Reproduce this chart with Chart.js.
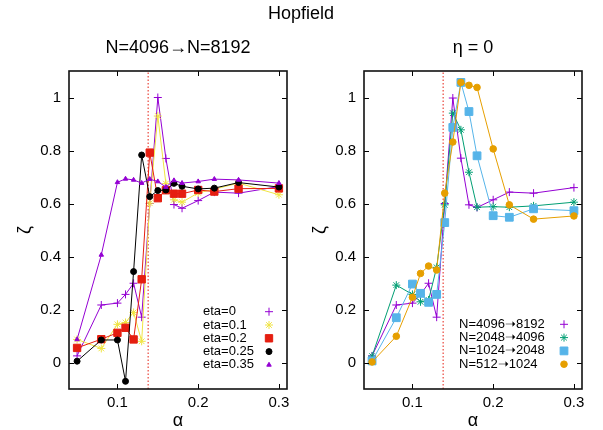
<!DOCTYPE html>
<html>
<head>
<meta charset="utf-8">
<script src="https://cdn.jsdelivr.net/npm/chart.js@4/dist/chart.umd.min.js"></script>
<style>
  html, body { margin:0; padding:0; background:#fff; }
  #wrap { position:relative; width:603px; height:430px; background:#fff; overflow:hidden; }
  canvas { position:absolute; top:0; }
  .t { position:absolute; font-family:"Liberation Sans", Arial, sans-serif; font-size:18px; line-height:18px; text-align:center; color:#000; white-space:nowrap; }
</style>
</head>
<body>
<div id="wrap">
  <canvas id="c1" width="300" height="430" style="left:0px"></canvas>
  <canvas id="c2" width="303" height="430" style="left:300px"></canvas>
  <div class="t" style="left:201px; width:200px; top:4px;">Hopfield</div>
  <div class="t" style="left:78px; width:200px; top:38px;">N=4096→N=8192</div>
  <div class="t" style="left:373px; width:200px; top:38px;">η = 0</div>
</div>
<script>
// ---- data ----
const ALPHA = [0.05, 0.08, 0.1, 0.11, 0.12, 0.13, 0.14, 0.15, 0.16, 0.17, 0.18, 0.2, 0.22, 0.25, 0.3];

const ZETA_ETA_0    = [0.025, 0.217, 0.224, 0.257, 0.299, 0.171, 0.60, 1.0, 0.77, 0.596, 0.582, 0.611, 0.643, 0.639, 0.664];
const ZETA_ETA_01   = [0.087, 0.053, 0.144, 0.151, 0.189, 0.080, 0.601, 0.930, 0.675, 0.614, 0.605, 0.640, 0.654, 0.677, 0.633];
const ZETA_ETA_02   = [0.055, 0.088, 0.112, 0.131, 0.087, 0.314, 0.792, 0.620, 0.650, 0.637, 0.637, 0.651, 0.645, 0.656, 0.657];
const ZETA_ETA_025  = [0.005, 0.085, 0.085, -0.071, 0.343, 0.783, 0.626, 0.649, 0.651, 0.676, 0.665, 0.655, 0.658, 0.679, 0.662];
const ZETA_ETA_035  = [0.087, 0.406, 0.680, 0.693, 0.689, 0.677, 0.692, 0.683, 0.662, 0.687, 0.677, 0.683, 0.692, 0.689, 0.677];

const ZETA_N4096 = [0.025, 0.217, 0.224, 0.257, 0.299, 0.171, 0.60, 0.998, 0.771, 0.595, 0.585, 0.614, 0.643, 0.639, 0.660];
const ZETA_N2048 = [0.024, 0.292, 0.257, 0.229, 0.236, 0.359, 0.595, 0.941, 0.878, 0.718, 0.586, 0.588, 0.586, 0.591, 0.605];
const ZETA_N1024 = [0.006, 0.169, 0.296, 0.261, 0.227, 0.257, 0.528, 0.887, 1.057, 0.947, 0.780, 0.554, 0.548, 0.580, 0.573];
const ZETA_N512  = [0.002, 0.099, 0.246, 0.336, 0.364, 0.349, 0.639, 0.832, 1.057, 1.046, 1.038, 0.806, 0.595, 0.541, 0.553];

const LEFT_LABELS  = ['eta=0', 'eta=0.1', 'eta=0.2', 'eta=0.25', 'eta=0.35'];
const RIGHT_LABELS = ['N=4096\u279d8192', 'N=2048\u279d4096', 'N=1024\u279d2048', 'N=512\u279d1024'];

const X_TICKS = [0.1, 0.2, 0.3];
const Y_TICKS = [0, 0.2, 0.4, 0.6, 0.8, 1];
const X_RANGE = [0.04, 0.31];
const Y_RANGE = [-0.1, 1.1];
const ALPHA_C = 0.138;

// ---- styles ----
const FONT = '"Liberation Sans", Arial, sans-serif';
const LEFT_STYLE = [
  {c:'#9400d3', ps:'cross',    r:4},
  {c:'#f0e442', ps:'star',     r:4},
  {c:'#e51e10', ps:'rect',     r:5.2},
  {c:'#000000', ps:'circle',   r:3},
  {c:'#9400d3', ps:'triangle', r:2.6}
];
const RIGHT_STYLE = [
  {c:'#9400d3', ps:'cross',  r:4},
  {c:'#009e73', ps:'star',   r:4},
  {c:'#56b4e9', ps:'rect',   r:5.5},
  {c:'#e69f00', ps:'circle', r:3.3}
];

function drawMarker(ctx, ps, r, x, y, c) {
  ctx.save();
  ctx.strokeStyle = c; ctx.fillStyle = c; ctx.lineWidth = 1;
  ctx.beginPath();
  if (ps === 'cross' || ps === 'star') {
    ctx.moveTo(x - r, y); ctx.lineTo(x + r, y);
    ctx.moveTo(x, y - r); ctx.lineTo(x, y + r);
    if (ps === 'star') {
      const d = r * Math.SQRT1_2;
      ctx.moveTo(x - d, y - d); ctx.lineTo(x + d, y + d);
      ctx.moveTo(x - d, y + d); ctx.lineTo(x + d, y - d);
    }
    ctx.stroke();
  } else if (ps === 'rect') {
    const s = r * Math.SQRT1_2;
    ctx.rect(x - s, y - s, 2 * s, 2 * s); ctx.fill(); ctx.stroke();
  } else if (ps === 'circle') {
    ctx.arc(x, y, r, 0, Math.PI * 2); ctx.fill(); ctx.stroke();
  } else if (ps === 'triangle') {
    const w = r * Math.sqrt(3);
    ctx.moveTo(x, y - r); ctx.lineTo(x + w / 2, y + r / 2); ctx.lineTo(x - w / 2, y + r / 2);
    ctx.closePath(); ctx.fill(); ctx.stroke();
  }
  ctx.restore();
}

const framePlugin = {
  id: 'gframe',
  afterDatasetsDraw(chart) {
    const {ctx, chartArea: a, scales} = chart;
    ctx.save();
    ctx.strokeStyle = '#000'; ctx.lineWidth = 1;
    const tl = 5;
    ctx.beginPath();
    X_TICKS.forEach(v => {
      const px = Math.round(scales.x.getPixelForValue(v)) + 0.5;
      ctx.moveTo(px, a.bottom); ctx.lineTo(px, a.bottom - tl);
      ctx.moveTo(px, a.top); ctx.lineTo(px, a.top + tl);
    });
    Y_TICKS.forEach(v => {
      const py = Math.round(scales.y.getPixelForValue(v)) + 0.5;
      ctx.moveTo(a.left, py); ctx.lineTo(a.left + tl, py);
      ctx.moveTo(a.right, py); ctx.lineTo(a.right - tl, py);
    });
    ctx.stroke();
    ctx.lineWidth = 1.6;
    ctx.strokeStyle = '#111';
    ctx.strokeRect(a.left, a.top, a.right - a.left, a.bottom - a.top);
    // legend
    const o = chart.options.plugins.gleg;
    ctx.font = '13px ' + FONT;
    ctx.fillStyle = '#000';
    ctx.textAlign = 'left';
    ctx.textBaseline = 'middle';
    o.labels.forEach((lab, i) => {
      const y = o.y0 + i * o.dy;
      ctx.fillText(lab, o.textX, y);
      const s = o.styles[i];
      drawMarker(ctx, s.ps, s.r, o.markX, y, s.c);
    });
    ctx.restore();
  }
};

function makeDatasets(series, styles, labels) {
  const n = series.length;
  const ds = series.map((vals, i) => ({
    label: labels[i],
    data: ALPHA.map((a, j) => ({x: a, y: vals[j]})),
    borderColor: styles[i].c,
    backgroundColor: styles[i].c,
    borderWidth: 1,
    pointStyle: styles[i].ps,
    pointRadius: styles[i].r,
    pointBorderWidth: 1,
    pointBackgroundColor: styles[i].c,
    pointBorderColor: styles[i].c,
    tension: 0,
    fill: false,
    order: n - i
  }));
  ds.push({
    label: '',
    data: [{x: ALPHA_C, y: Y_RANGE[0]}, {x: ALPHA_C, y: Y_RANGE[1]}],
    borderColor: '#e51e10',
    borderWidth: 1,
    borderDash: [1.5, 2],
    pointRadius: 0,
    fill: false,
    order: n + 5
  });
  return ds;
}

function makeChart(id, series, styles, labels, geo) {
  return new Chart(document.getElementById(id), {
    type: 'line',
    data: {datasets: makeDatasets(series, styles, labels)},
    plugins: [framePlugin],
    options: {
      responsive: false,
      animation: false,
      events: [],
      layout: {padding: {left: 0, right: geo.padRight, top: 71, bottom: 0}},
      plugins: {
        legend: {display: false},
        tooltip: {enabled: false},
        gleg: {labels: labels, styles: styles, textX: geo.textX, markX: geo.markX, y0: geo.y0, dy: 13.3}
      },
      scales: {
        x: {
          type: 'linear', min: X_RANGE[0], max: X_RANGE[1],
          afterBuildTicks: s => { s.ticks = X_TICKS.map(v => ({value: v})); },
          afterFit: s => { s.height = 41; },
          grid: {display: false, drawTicks: false},
          border: {display: false},
          ticks: {padding: 5, color: '#000', font: {size: 15, family: FONT}, maxRotation: 0, autoSkip: false, callback: v => String(v)},
          title: {display: true, text: 'α', color: '#000', font: {size: 18, family: FONT, lineHeight: 1}, padding: {top: 0, bottom: 0}}
        },
        y: {
          type: 'linear', min: Y_RANGE[0], max: Y_RANGE[1],
          afterBuildTicks: s => { s.ticks = Y_TICKS.map(v => ({value: v})); },
          afterFit: s => { s.width = geo.yWidth; },
          grid: {display: false, drawTicks: false},
          border: {display: false},
          ticks: {padding: 8, color: '#000', font: {size: 15, family: FONT}, autoSkip: false, callback: v => String(v)},
          title: {display: true, text: 'ζ', color: '#000', font: {size: 18, family: FONT, lineHeight: 1}, padding: {top: geo.titlePad, bottom: 0}}
        }
      }
    }
  });
}

makeChart('c1', [ZETA_ETA_0, ZETA_ETA_01, ZETA_ETA_02, ZETA_ETA_025, ZETA_ETA_035], LEFT_STYLE, LEFT_LABELS,
  {padRight: 13, yWidth: 69, textX: 203, markX: 269, y0: 311.7, titlePad: 16});
makeChart('c2', [ZETA_N4096, ZETA_N2048, ZETA_N1024, ZETA_N512], RIGHT_STYLE, RIGHT_LABELS,
  {padRight: 21, yWidth: 64, textX: 159, markX: 264, y0: 324.3, titlePad: 11});
</script>
</body>
</html>
